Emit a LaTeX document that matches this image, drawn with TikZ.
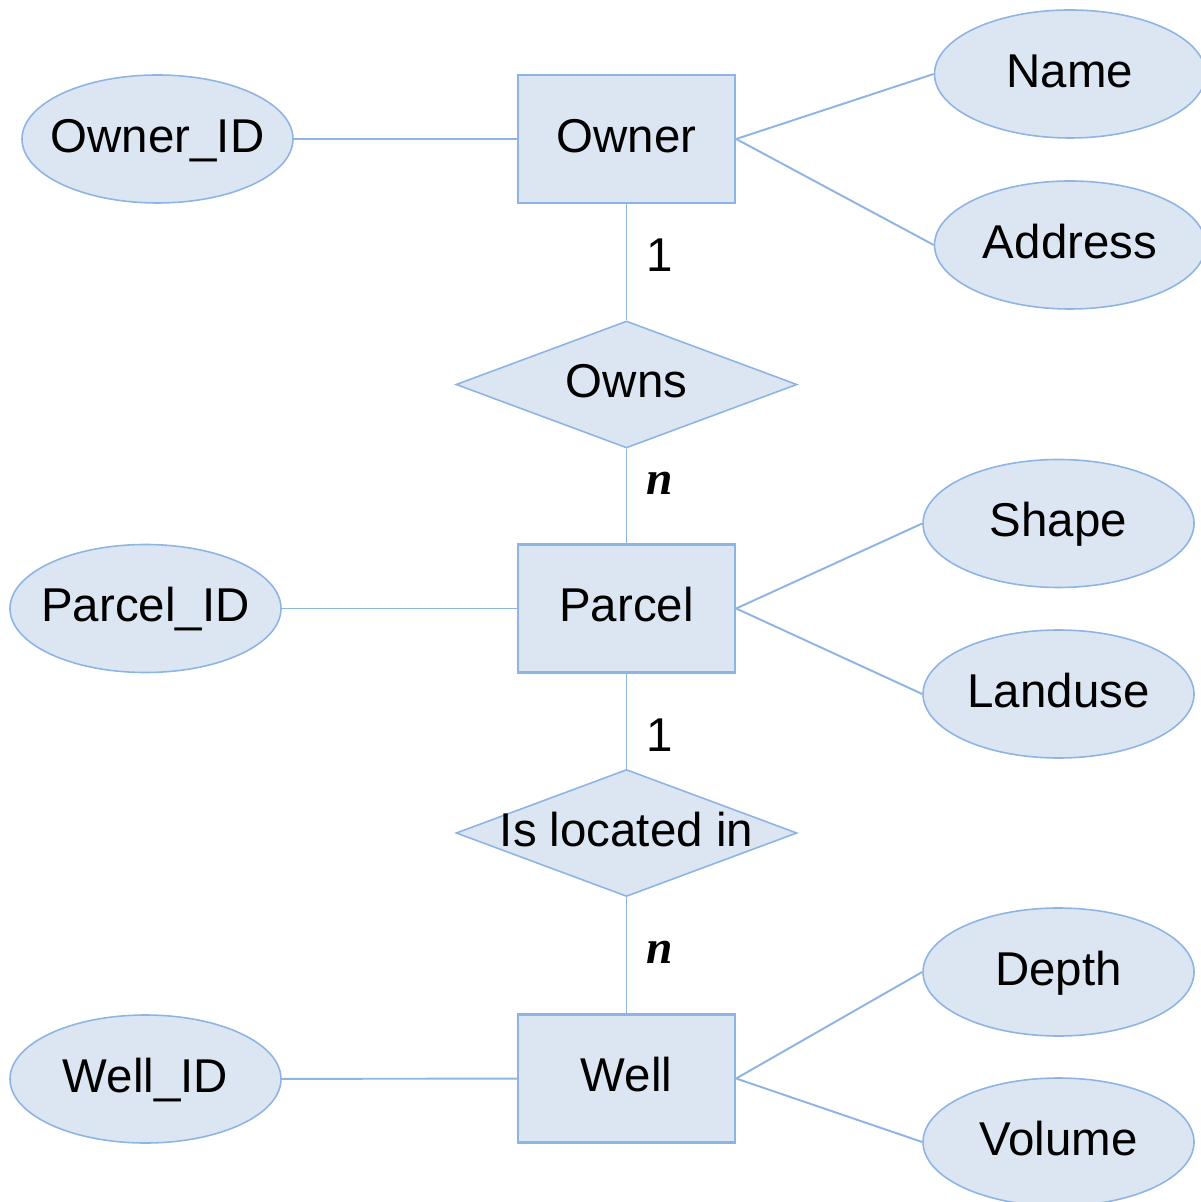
\documentclass[tikz,border=0pt]{standalone}
\usepackage{fontspec}
\setmainfont{Liberation Sans}
\newfontfamily\cardfont{Liberation Serif}
\usetikzlibrary{shapes.geometric}
\pgfdeclarelayer{bg}
\pgfsetlayers{bg,main}
\definecolor{erfill}{HTML}{DCE6F2}
\definecolor{erline}{HTML}{8EB4E3}
\tikzset{
    every node/.style={inner sep=0mm, font=\fontsize{13.5}{16}\selectfont},
    entity/.style={rectangle, draw=erline, fill=erfill, line width=0.65pt, minimum width=2.17cm, minimum height=1.28cm, text height=9.7pt, text depth=2.2pt},
    attr/.style={ellipse, draw=erline, fill=erfill, line width=0.45pt, minimum width=2.71cm, minimum height=1.28cm},
    rel/.style={diamond, draw=erline, fill=erfill, line width=0.45pt, minimum width=3.41cm, minimum height=1.27cm},
    card/.style={draw=none, fill=none}
}
\tikzset{every label/.style={shape=rectangle, draw=none, fill=none, inner sep=0mm, text height=9.7pt, text depth=2.2pt}}
\newcommand{\many}{{\cardfont\bfseries\itshape n}}

\begin{document}
\begin{tikzpicture}[every edge/.append style={erline, line width=0.55pt}]
    \useasboundingbox (0cm, 0cm) rectangle (12cm, -12.02cm);

    \node (owner) [entity] at (6.265cm, -1.39cm) {Owner};
    \node (parcel) [entity] at (6.265cm, -6.085cm) {Parcel};
    \node (well) [entity] at (6.265cm, -10.785cm) {Well};

    \node (owns) [rel, label=center:Owns] at (6.265cm, -3.845cm) {};
    \node (locin) [rel, label=center:Is located in] at (6.265cm, -8.33cm) {};

    \node (ownerid) [attr, label=center:Owner\_ID] at (1.575cm, -1.39cm) {};
    \node (name) [attr, label=center:Name] at (10.70cm, -0.74cm) {};
    \node (addr) [attr, label=center:Address] at (10.70cm, -2.45cm) {};
    \node (parcelid) [attr, label=center:Parcel\_ID] at (1.455cm, -6.085cm) {};
    \node (shape) [attr, label=center:Shape] at (10.585cm, -5.235cm) {};
    \node (landuse) [attr, label=center:Landuse] at (10.585cm, -6.94cm) {};
    \node (wellid) [attr, label=center:Well\_ID] at (1.455cm, -10.79cm) {};
    \node (depth) [attr, label=center:Depth] at (10.585cm, -9.72cm) {};
    \node (volume) [attr, label=center:Volume] at (10.585cm, -11.42cm) {};

    \node (c1) [card] at (6.60cm, -2.55cm) {1};
    \node (c2) [card] at (6.60cm, -4.83cm) {\many};
    \node (c3) [card] at (6.60cm, -7.35cm) {1};
    \node (c4) [card] at (6.60cm, -9.52cm) {\many};

    \begin{pgfonlayer}{bg}
        \draw (ownerid) edge (owner);
        \draw (owner.east) edge (name.west);
        \draw (owner.east) edge (addr.west);
        \draw (owner) edge (owns);
        \draw (owns) edge (parcel);
        \draw (parcelid) edge (parcel);
        \draw (parcel.east) edge (shape.west);
        \draw (parcel.east) edge (landuse.west);
        \draw (parcel) edge (locin);
        \draw (locin) edge (well);
        \draw (wellid) edge (well);
        \draw (well.east) edge (depth.west);
        \draw (well.east) edge (volume.west);
    \end{pgfonlayer}
\end{tikzpicture}
\end{document}
